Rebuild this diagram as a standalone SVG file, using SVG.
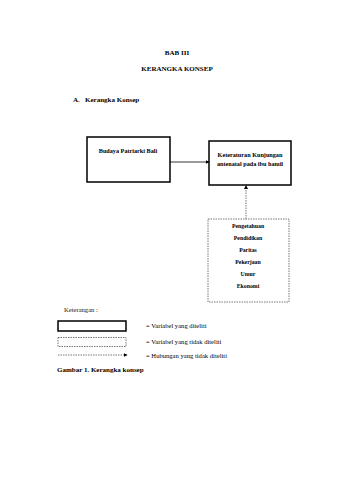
<svg xmlns="http://www.w3.org/2000/svg" width="339" height="480" viewBox="0 0 339 480">
<style>
text{font-family:"Liberation Serif","Times New Roman",serif;fill:#000}
.b{font-weight:bold}
.t{font-size:7px}
.s{font-size:5.8px}
.m{font-size:6.2px}
.lg{font-size:6.6px}
.box{fill:#fff;stroke:#000;stroke-width:1.5}
.dbox{fill:#fff;stroke:#555;stroke-width:0.8;stroke-dasharray:1.5,1}
.ln{stroke:#000;stroke-width:0.8;fill:none}
.dl{stroke:#555;stroke-width:0.8;fill:none;stroke-dasharray:1.5,1}
</style>
<defs>
<marker id="ah" markerWidth="4" markerHeight="4" refX="3.5" refY="2" orient="auto" markerUnits="userSpaceOnUse">
<path d="M0,0 L4,2 L0,4 Z" fill="#000"/>
</marker>
</defs>
<rect width="339" height="480" fill="#fff"/>
<g id="title">
<text class="b t" x="177" y="55" text-anchor="middle">BAB III</text>
<text class="b t" x="177" y="71" text-anchor="middle">KERANGKA KONSEP</text>
<text class="b t" x="73" y="102">A.</text>
<text class="b t" x="85" y="102">Kerangka Konsep</text>
</g>
<g id="node-budaya">
<rect class="box" x="87" y="137" width="83" height="45"/>
<text class="b m" x="128" y="153" text-anchor="middle">Budaya Patriarki Bali</text>
</g>
<g id="node-keteraturan">
<rect class="box" x="209" y="141" width="82" height="44"/>
<text class="b m" x="250" y="157" text-anchor="middle">Keteraturan Kunjungan</text>
<text class="b m" x="250" y="166" text-anchor="middle">antenatal pada ibu hamil</text>
</g>
<g id="node-faktor">
<rect class="dbox" x="208" y="219" width="81" height="83"/>
<text class="b s" x="248" y="228" text-anchor="middle">Pengetahuan</text>
<text class="b s" x="248" y="240" text-anchor="middle">Pendidikan</text>
<text class="b s" x="248" y="252" text-anchor="middle">Paritas</text>
<text class="b s" x="248" y="264" text-anchor="middle">Pekerjaan</text>
<text class="b s" x="248" y="276" text-anchor="middle">Umur</text>
<text class="b s" x="248" y="288" text-anchor="middle">Ekonomi</text>
</g>
<g id="connectors">
<line class="ln" x1="170" y1="162" x2="209" y2="162" marker-end="url(#ah)"/>
<line class="dl" x1="246" y1="219" x2="246" y2="185.5" marker-end="url(#ah)"/>
</g>
<g id="legend">
<text class="lg" x="64" y="312" style="fill:#222">Keterangan :</text>
<rect class="box" x="58" y="321" width="68" height="10"/>
<text class="lg" x="146" y="327.5">= Variabel yang diteliti</text>
<rect class="dbox" x="58" y="337.5" width="68" height="9"/>
<text class="lg" x="146" y="344">= Variabel yang  tidak diteliti</text>
<line class="dl" x1="58" y1="355" x2="127" y2="355" marker-end="url(#ah)"/>
<text class="lg" x="146" y="357.5">= Hubungan yang tidak diteliti</text>
<text class="b t" x="57" y="371.5">Gambar 1. Kerangka konsep</text>
</g>
</svg>
